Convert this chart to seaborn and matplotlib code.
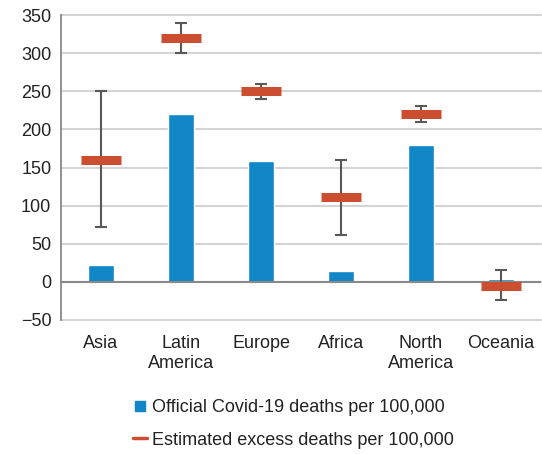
import numpy as np
import pandas as pd
import matplotlib
matplotlib.use("Agg")
import matplotlib.pyplot as plt
from matplotlib.lines import Line2D
import seaborn as sns

regions = ["Asia", "Latin\nAmerica", "Europe", "Africa", "North\nAmerica", "Oceania"]
official = [22, 220, 159, 14, 180, 4]
excess = [160, 320, 250, 111, 220, -5]
excess_low = [72, 300, 240, 62, 210, -24]
excess_high = [250, 340, 260, 160, 230, 16]

BLUE = "#1287C7"
RED = "#CC4E30"
GREY = "#595959"

sns.set_style("white")
plt.rcParams["font.family"] = ["Liberation Sans", "DejaVu Sans"]

df = pd.DataFrame({"region": regions, "official": official})

fig = plt.figure(figsize=(5.42, 4.54), dpi=100)
ax = fig.add_axes([61 / 542, 1 - 320 / 454, 480 / 542, 305 / 454])

sns.barplot(data=df, x="region", y="official", color=BLUE, width=0.33,
            saturation=1, ax=ax, zorder=2)

x = np.arange(len(regions))
lo = np.array(excess) - np.array(excess_low)
hi = np.array(excess_high) - np.array(excess)
ax.errorbar(x, excess, yerr=[lo, hi], fmt="none", ecolor=GREY, elinewidth=1.5,
            capsize=4.5, capthick=1.5, zorder=3)
ax.plot(x, excess, linestyle="none", marker="_", markersize=29.5,
        markeredgewidth=6.5, color=RED, zorder=4, solid_capstyle="butt")

ax.set_ylim(-50, 350)
ax.set_xlim(-0.5, len(regions) - 0.5)
ax.set_yticks(range(-50, 351, 50))
ax.axhline(0, color="#898989", linewidth=1.5, zorder=2.5)

for s in ["top", "right", "bottom"]:
    ax.spines[s].set_visible(False)
ax.spines["left"].set_color("#898989")
ax.spines["left"].set_linewidth(1.3)

ax.tick_params(axis="y", length=4, color="#898989", width=1.3, labelsize=13, pad=3,
               labelcolor="#222222")
ax.tick_params(axis="x", length=0, labelsize=13, pad=11, labelcolor="#222222")
ax.set_xlabel("")
ax.set_ylabel("")

# horizontal gridlines (unclipped so the -50 and 350 lines show fully)
ax.set_axisbelow(True)
ax.yaxis.grid(True, color="#d4d4d4", linewidth=1.5, linestyle="-")
for g in ax.yaxis.get_gridlines():
    g.set_clip_on(False)

handles = [
    Line2D([], [], linestyle="none", marker="s", markersize=7, color=BLUE),
    Line2D([], [], color=RED, linewidth=2.5),
]
labels = ["Official Covid-19 deaths per 100,000", "Estimated excess deaths per 100,000"]
leg = fig.legend(handles, labels, loc="center", bbox_to_anchor=(0.542, 0.066),
                 frameon=False, fontsize=13, handlelength=0.75,
                 handletextpad=0.3, labelspacing=0.85)
for t in leg.get_texts():
    t.set_color("#222222")

fig.savefig("out.png", dpi=100)
